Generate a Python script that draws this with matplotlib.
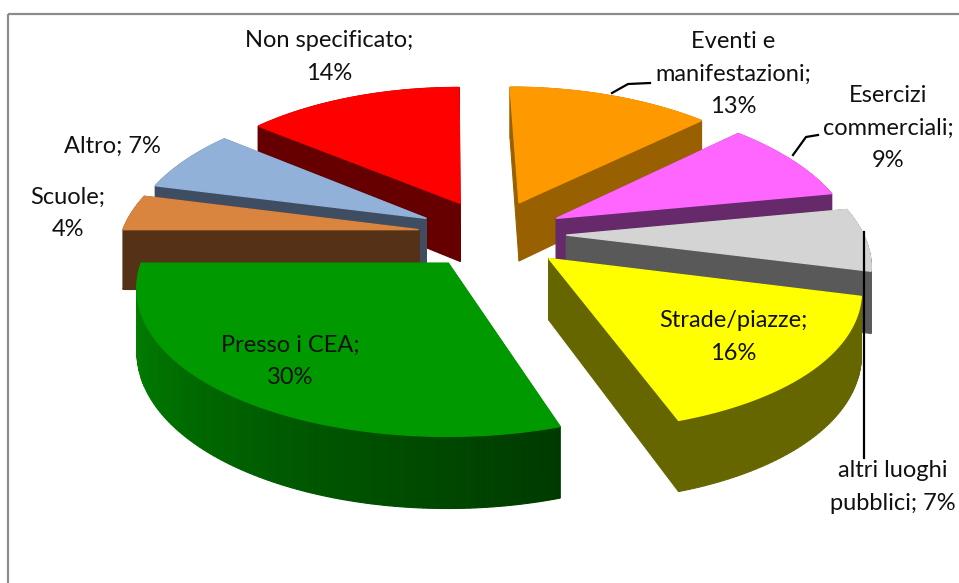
import numpy as np
import matplotlib
matplotlib.use("Agg")
import matplotlib.pyplot as plt
from matplotlib.colors import to_rgb
from matplotlib.patches import Polygon

categories = ["Eventi e\nmanifestazioni;\n13%", "Esercizi\ncommerciali;\n9%", "altri luoghi\npubblici; 7%",
              "Strade/piazze;\n16%", "Presso i CEA;\n30%", "Scuole;\n4%", "Altro; 7%", "Non specificato;\n14%"]
values = [13, 9, 7, 16, 30, 4, 7, 14]
top_colors = ["#FF9900", "#FF66FF", "#D4D4D4", "#FFFF00", "#009900", "#D98540", "#92B1D8", "#FF0000"]
wall_colors = ["#996000", "#662A6B", "#595959", "#666600", "#006600", "#553217", "#3F4D62", "#660000"]
rim_start = ["#996000", "#662A6B", "#595959", "#666600", "#003A00", "#553217", "#3F4D62", "#660000"]
rim_end = ["#996000", "#662A6B", "#595959", "#666600", "#008800", "#553217", "#3F4D62", "#660000"]
label_pos = [(733, 74), (888, 128), (893, 487), (733, 337), (290, 361), (68, 213), (112, 146), (329, 57)]
draw_order = [7, 0, 6, 5, 1, 2, 3, 4]

CX, CY, R, KR, PX, PY, H, EXPLODE, SHEAR = 492, 234, 297, 140, 0.16, 0.14, 60, 0.25, 40

def project(wx, wy, down=False):
    sx = 1 / (1 + PX * wy)
    sy = 1 / (1 + PY * wy)
    return CX + R * wx * sx + SHEAR * (sx - 1), CY - KR * wy * sy + (H * sy if down else 0)

fig = plt.figure(figsize=(9.59, 5.83), dpi=100)
ax = fig.add_axes([0, 0, 1, 1])
ax.set_xlim(0, 959)
ax.set_ylim(583, 0)
ax.axis("off")

ax.plot([8, 8], [583, 14], color="#8c8c8c", lw=1.6, solid_capstyle="butt")
ax.plot([8, 959], [14, 14], color="#8c8c8c", lw=1.6, solid_capstyle="butt")

edges = np.cumsum([0] + values) / sum(values) * 2 * np.pi

for i in draw_order:
    a0, a1 = edges[i], edges[i + 1]
    mid = (a0 + a1) / 2
    ox, oy = EXPLODE * np.sin(mid), EXPLODE * np.cos(mid)
    th = np.linspace(a0, a1, max(int(values[i] * 4), 12))
    wx = ox + np.sin(th)
    wy = oy + np.cos(th)
    c0, c1 = np.array(to_rgb(rim_start[i])), np.array(to_rgb(rim_end[i]))
    quads = []
    for wall_x, wall_y in [(wx[0], wy[0]), (wx[-1], wy[-1])]:
        q = [project(ox, oy), project(wall_x, wall_y), project(wall_x, wall_y, True), project(ox, oy, True)]
        quads.append(((oy + wall_y) / 2, q, wall_colors[i]))
    for j in range(len(th) - 1):
        q = [project(wx[j], wy[j]), project(wx[j + 1], wy[j + 1]),
             project(wx[j + 1], wy[j + 1], True), project(wx[j], wy[j], True)]
        t = j / (len(th) - 2)
        quads.append(((wy[j] + wy[j + 1]) / 2, q, tuple(c0 + (c1 - c0) * t)))
    for _, q, col in sorted(quads, key=lambda e: -e[0]):
        ax.add_patch(Polygon(q, closed=True, facecolor=col, edgecolor=col, lw=0.8))
    top = [project(ox, oy)] + [project(x, y) for x, y in zip(wx, wy)]
    ax.add_patch(Polygon(top, closed=True, facecolor=top_colors[i], edgecolor=top_colors[i], lw=1.0))

ax.plot([612, 628, 650], [93, 84, 83], color="black", lw=1.6)
ax.plot([793, 806, 818], [155, 137, 135], color="black", lw=1.6)
ax.plot([864, 864], [232, 458], color="black", lw=1.6)

for text, (x, y) in zip(categories, label_pos):
    ax.text(x, y, text, ha="center", va="center", fontsize=17, family="Lato", color="#111111", linespacing=1.65)

fig.savefig("out.png", dpi=100, facecolor="white")
